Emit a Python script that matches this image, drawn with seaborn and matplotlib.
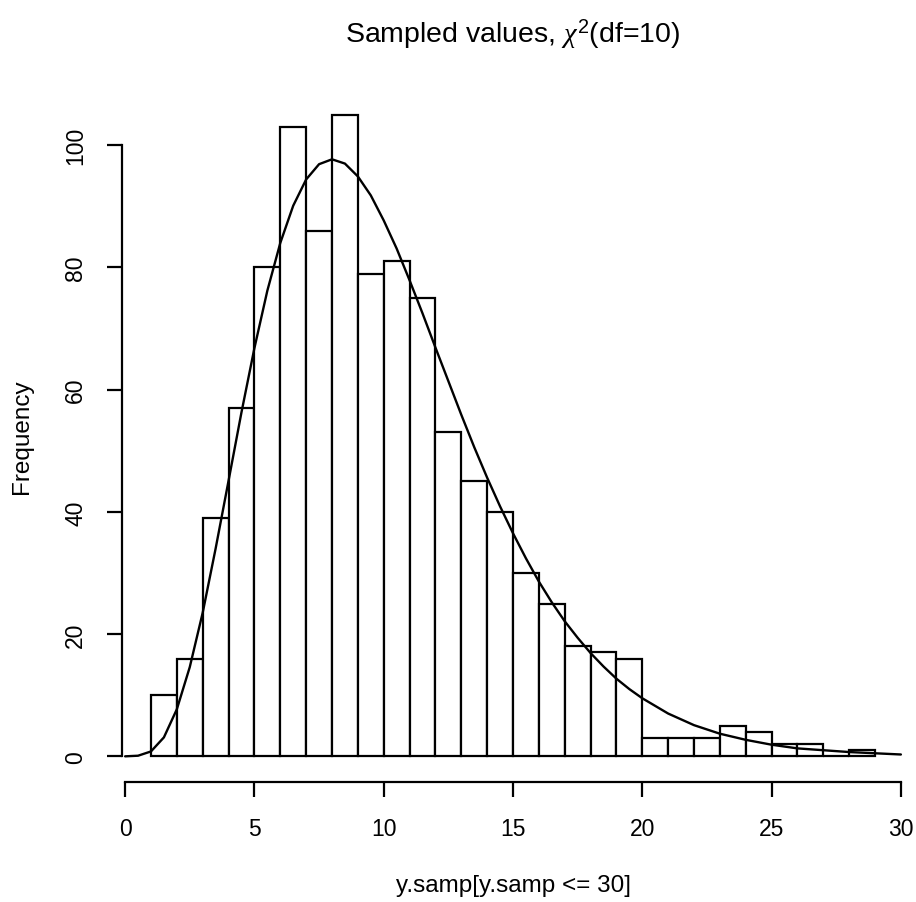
import numpy as np
import pandas as pd
import matplotlib
matplotlib.use('Agg')
import matplotlib.pyplot as plt
import seaborn as sns

# histogram counts, bins of width 1 from 1 to 29
bin_edges = list(range(1, 30))
counts = [10, 16, 39, 57, 80, 103, 86, 105, 79, 81, 75, 53, 45, 40,
          30, 25, 18, 17, 16, 3, 3, 3, 5, 4, 2, 2, 0, 1]

# the smooth curve drawn over the bars (read at these x positions)
curve_x = [0, 0.5, 1, 1.5, 2, 2.5, 3, 3.5, 4, 4.5, 5, 5.5, 6, 6.5, 7, 7.5,
           8, 8.5, 9, 9.5, 10, 10.5, 11, 11.5, 12, 12.5, 13, 13.5, 14, 14.5,
           15, 15.5, 16, 16.5, 17, 17.5, 18, 18.5, 19, 19.5, 20, 21, 22, 23,
           24, 25, 26, 27, 28, 29, 30]
curve_y = [0, 0.1, 0.8, 3.1, 7.7, 14.6, 23.5, 34.0, 45.1, 56.3, 66.8, 76.2,
           84.0, 90.1, 94.4, 96.9, 97.7, 97.0, 94.9, 91.8, 87.7, 83.1, 77.9,
           72.5, 66.9, 61.4, 55.9, 50.6, 45.6, 40.9, 36.5, 32.4, 28.6, 25.2,
           22.1, 19.4, 16.9, 14.7, 12.7, 11.0, 9.5, 7.0, 5.1, 3.7, 2.7, 1.9,
           1.3, 1.0, 0.7, 0.5, 0.3]

x_ticks = [0, 5, 10, 15, 20, 25, 30]
y_ticks = [0, 20, 40, 60, 80, 100]

sns.set_style('ticks', {'text.color': 'black', 'axes.labelcolor': 'black',
                        'xtick.color': 'black', 'ytick.color': 'black',
                        'axes.edgecolor': 'black'})
plt.rcParams['font.family'] = ['Liberation Sans', 'DejaVu Sans']
plt.rcParams['mathtext.fontset'] = 'custom'
plt.rcParams['mathtext.rm'] = 'Liberation Sans'
plt.rcParams['mathtext.it'] = 'Liberation Serif:italic'

hist_df = pd.DataFrame({'y.samp': [e + 0.5 for e in bin_edges[:-1]], 'n': counts})
curve_df = pd.DataFrame({'x': curve_x, 'dens': curve_y})

fig = plt.figure(figsize=(9.16, 9.03), dpi=100)
ax = fig.add_axes([0.1332, 0.1329, 0.8537, 0.7674])

sns.histplot(data=hist_df, x='y.samp', weights='n', bins=bin_edges,
             color='white', edgecolor='black', linewidth=1.6, alpha=1, ax=ax)
sns.lineplot(data=curve_df, x='x', y='dens', color='black', linewidth=1.7, ax=ax)

ax.set_xlim(-0.12, 30.12)
ax.set_ylim(-4.2, 109.2)
ax.set_xticks(x_ticks)
ax.set_yticks(y_ticks)
ax.set_yticklabels([str(v) for v in y_ticks], rotation=90, va='center')

for s in ['top', 'right']:
    ax.spines[s].set_visible(False)
ax.spines['left'].set_bounds(0, 100)
ax.spines['bottom'].set_bounds(0, 30)
for s in ['left', 'bottom']:
    ax.spines[s].set_linewidth(1.6)
ax.tick_params(axis='both', length=11, width=1.6, labelsize=16.5, pad=14)

ax.set_xlabel('y.samp[y.samp <= 30]', fontsize=17.5)
ax.xaxis.label.set_va('center')
ax.xaxis.set_label_coords(0.5, -0.149)
ax.set_ylabel('Frequency', fontsize=17.5)
ax.yaxis.label.set_va('center')
ax.yaxis.set_label_coords(-0.128, 0.5)

ax.text(0.5, 1.081, r'Sampled values, $\chi^{\mathrm{2}}$(df=10)',
        transform=ax.transAxes, ha='center', va='center', fontsize=20.5)

fig.savefig('out.png', dpi=100)
